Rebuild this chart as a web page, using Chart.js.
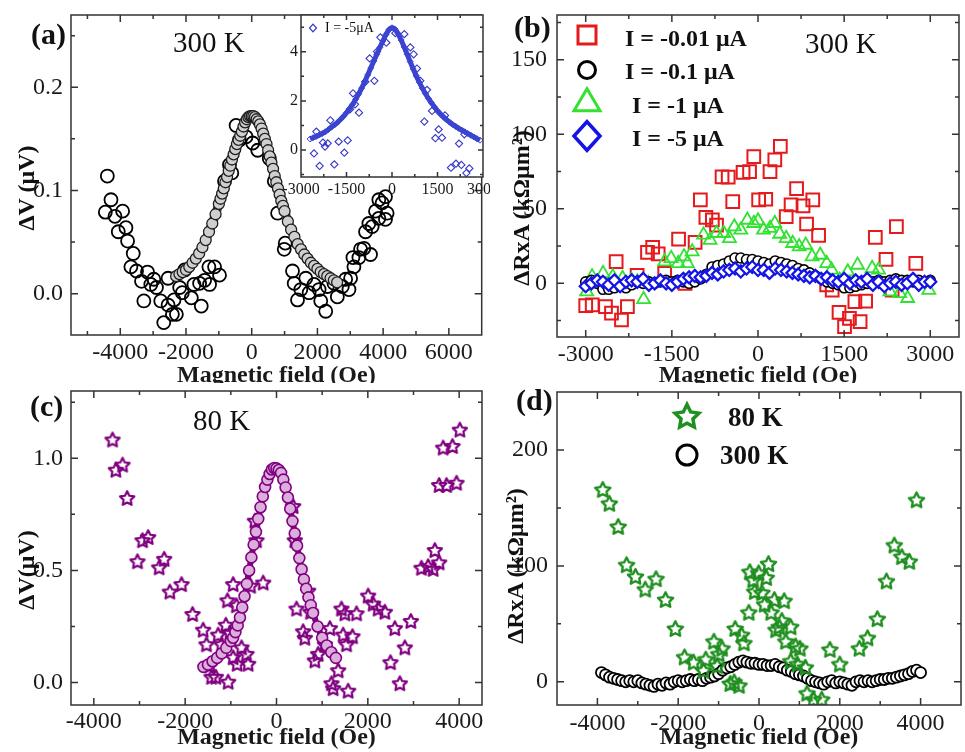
<!DOCTYPE html>
<html>
<head>
<meta charset="utf-8">
<title>Magnetic field dependence of ΔV and ΔRxA</title>
<script src="https://cdn.jsdelivr.net/npm/chart.js@4.4.1/dist/chart.umd.min.js"></script>
<style>
  body { margin: 0; width: 965px; height: 752px; overflow: hidden; position: relative; background: #fff;
         font-family: "Liberation Serif", "Times New Roman", serif; color: #111; }
  canvas { position: absolute; }
  .txt { position: absolute; white-space: nowrap; line-height: 1; }
  .panel { font-size: 30px; font-weight: bold; }
  .temp { font-size: 29px; }
  .ytitle { font-size: 24px; font-weight: bold; transform: translate(-50%, -50%) rotate(-90deg); }
  .leg { font-size: 24px; font-weight: bold; }
  .legd { font-size: 27px; font-weight: bold; }
  .small { font-size: 14px; }
  svg.mk { position: absolute; overflow: visible; }
</style>
</head>
<body>
<canvas id="chartA" width="490" height="400" style="left:0;top:0;z-index:1"></canvas>
<canvas id="chartInset" width="225" height="205" style="left:280px;top:0;z-index:2"></canvas>
<canvas id="chartB" width="480" height="400" style="left:490px;top:0;z-index:3"></canvas>
<canvas id="chartC" width="490" height="369" style="left:0;top:383px;z-index:4"></canvas>
<canvas id="chartD" width="480" height="369" style="left:490px;top:383px;z-index:5"></canvas>
<div id="notes" style="position:absolute;left:0;top:0;z-index:10"></div>
<script>
// ---- data: [field (Oe), value] ----

// (a) 300 K, ΔV (μV)
const a300Points = [[-4394,0.114],[-4455,0.079],[-4283,0.091],[-4162,0.075],[-3929,0.080],[-4061,0.060],[-3828,0.064],[-3778,0.051],
  [-3606,0.039],[-3677,0.026],[-3505,0.022],[-3354,0.012],[-3172,0.021],[-3283,-0.007],[-3071,0.009],[-2980,0.014],[-2899,0.006],
  [-2768,-0.007],[-2677,-0.028],[-2545,-0.011],[-2545,0.015],[-2414,-0.020],[-2293,-0.020],[-2364,-0.006],[-2192,0.006],[-2111,0.001],
  [-2040,0.023],[-1838,-0.004],[-1758,0.009],[-1586,0.010],[-1535,-0.012],[-1434,0.013],[-1283,0.009],[-1131,0.026],[-980,0.018],
  [-1303,0.026],[-828,0.109],[-677,0.125],[-606,0.117],[-475,0.163],[-374,0.149],[-172,0.152],[30,0.146],[182,0.139],[535,0.131],
  [687,0.109],[788,0.078],[990,0.043],[1020,0.049],[1242,0.022],[1293,0.010],[1394,-0.006],[1495,0.004],[1646,0.015],[1747,0.001],
  [1899,0.009],[2051,0.004],[2101,-0.007],[2253,-0.017],[2303,0.007],[2505,0.010],[2606,-0.003],[2758,0.007],[2859,0.014],[2960,0.004],
  [3010,0.015],[3111,0.026],[3081,0.035],[3263,0.035],[3313,0.043],[3414,0.044],[3616,0.038],[3465,0.060],[3566,0.068],[3667,0.065],
  [3768,0.080],[3869,0.073],[3970,0.088],[3869,0.091],[4071,0.094],[4121,0.078],[4071,0.072]];
const a300Fit = [[-2300,0.017],[-2200,0.019],[-2100,0.021],[-2000,0.023],[-1900,0.026],[-1800,0.030],[-1700,0.034],[-1600,0.039],
  [-1500,0.045],[-1400,0.052],[-1300,0.060],[-1200,0.068],[-1100,0.077],[-1000,0.087],[-950,0.092],[-900,0.097],[-850,0.102],
  [-800,0.108],[-750,0.113],[-700,0.119],[-650,0.124],[-600,0.130],[-550,0.135],[-500,0.140],[-450,0.145],[-400,0.149],[-350,0.153],
  [-300,0.157],[-250,0.162],[-200,0.166],[-150,0.169],[-100,0.171],[-50,0.172],[0,0.172],[50,0.172],[100,0.171],[150,0.169],
  [200,0.167],[250,0.164],[300,0.160],[350,0.155],[400,0.150],[450,0.145],[500,0.139],[550,0.133],[600,0.127],[650,0.121],
  [700,0.114],[750,0.108],[800,0.102],[850,0.096],[900,0.090],[950,0.085],[1000,0.080],[1100,0.070],[1200,0.062],[1300,0.055],
  [1400,0.048],[1500,0.043],[1600,0.038],[1700,0.034],[1800,0.030],[1900,0.027],[2000,0.024],[2100,0.021],[2200,0.019],[2300,0.017],
  [2400,0.015],[2500,0.013],[2600,0.011]];

// (a) inset, I = -5 μA
const insetPoints = [[-2571,-0.14],[-2495,0.75],[-2385,-0.65],[-2275,0.30],[-2209,0.14],[-2121,0.27],[-2033,1.21],[-1901,-0.59],
  [-1758,0.34],[-1571,-0.11],[-1462,0.39],[-1385,1.66],[-1286,2.31],[-1220,1.86],[-1088,1.52],[-879,2.78],[-736,3.73],[-582,2.82],
  [-495,4.01],[-385,4.59],[-187,4.37],[110,4.76],[407,4.72],[604,4.18],[714,3.9],[824,3.32],[934,2.82],[1066,1.16],[1154,2.45],
  [1319,1.59],[1429,0.48],[1538,0.84],[1648,0.50],[1747,1.41],[1945,-0.72],[2110,-0.56],[2286,-0.61],[2209,0.26],[2451,-0.94],
  [2550,-0.75],[2385,0.64]];
const insetFit = [[-2700,0.45],[-2600,0.50],[-2500,0.55],[-2400,0.61],[-2300,0.67],[-2200,0.74],[-2100,0.83],[-2000,0.93],
  [-1900,1.02],[-1800,1.12],[-1700,1.24],[-1600,1.37],[-1500,1.52],[-1400,1.68],[-1300,1.86],[-1200,2.06],[-1100,2.28],[-1000,2.52],
  [-900,2.78],[-800,3.06],[-700,3.34],[-600,3.62],[-500,3.90],[-400,4.18],[-300,4.44],[-200,4.70],[-100,4.90],[0,4.98],[100,4.92],
  [200,4.74],[300,4.48],[400,4.20],[500,3.90],[600,3.60],[700,3.30],[800,3.02],[900,2.76],[1000,2.52],[1100,2.30],[1200,2.10],
  [1300,1.92],[1400,1.75],[1500,1.59],[1600,1.46],[1700,1.34],[1800,1.23],[1900,1.13],[2000,1.04],[2100,0.96],[2200,0.88],
  [2300,0.81],[2400,0.74],[2500,0.67],[2600,0.60],[2700,0.53],[2800,0.46],[2900,0.40]];

// (b) 300 K, ΔRxA (kΩμm²) for four bias currents
const bCurrentLabels = ['I = -0.01 μA', 'I = -0.1 μA', ' I = -1 μA', ' I = -5 μA'];
const bI001 = [[-3000,-15],[-2887,-14.5],[-2656,-15.7],[-2551,-20],[-2377,-24.6],[-2274,-15.7],[-2470,14.6],[-2105,5.4],[-1924,20.8],
  [-1834,24.2],[-1738,19.7],[-1625,6.7],[-1383,29.6],[-1270,0],[-1095,27.5],[-1004,56],[-908,44.3],[-795,42.5],[-722,39],[-626,71.4],
  [-519,71.2],[-440,54.8],[-260,74.5],[-147,75],[-73,85],[11,56],[135,56.4],[209,75],[293,82.8],[389,91.8],[491,44.8],[576,52.6],
  [672,63.6],[784,52],[846,39.8],[954,56],[1055,32.2],[1196,-1],[1292,-4.5],[1411,-19.5],[1507,-29],[1592,-23.5],[1687,-12.3],
  [1778,-25.7],[1874,-11.9],[2043,30.9],[2229,16.1],[2410,38],[2748,13.4],[2336,-4.5]];
const bI01 = [[-3000,1],[-2900,2],[-2800,0],[-2700,-4],[-2600,-4],[-2500,-3],[-2400,-2],[-2300,-3],[-2200,-1],[-2100,1],[-2000,0],
  [-1900,1],[-1800,0],[-1700,1],[-1600,2],[-1500,1],[-1400,2],[-1300,1],[-1200,0],[-1100,1],[-1000,3],[-900,6],[-800,11],[-700,12],
  [-600,13],[-500,15],[-400,17],[-300,17],[-200,16],[-100,16],[0,15],[100,14],[200,13],[300,15],[400,14],[500,13],[600,12],[700,10],
  [800,9],[900,7],[1000,5],[1100,3],[1200,1],[1300,0],[1400,-1],[1500,-3],[1600,-3],[1700,-2],[1800,-1],[1900,0],[2000,1],[2100,2],
  [2200,1],[2300,2],[2400,3],[2500,2],[2600,2],[2700,1],[2800,2],[2900,1],[3000,2]];
const bI1 = [[-2983,-5.6],[-2889,4.5],[-2698,6.7],[-2528,4.5],[-2359,3.4],[-2200,2],[-2100,1],[-1992,-10.7],[-1907,0],[-1625,14.6],
  [-1512,16.8],[-1388,13.4],[-1287,17.9],[-1230,13.4],[-1146,21.3],[-948,32.5],[-835,29],[-722,33.6],[-598,33.6],[-497,30.2],
  [-412,38],[-299,35.8],[-186,42.5],[-73,40.3],[0,42],[96,35.8],[209,37],[293,40.3],[378,33.1],[491,30.2],[604,26.9],[717,24.6],
  [830,25.7],[942,17.9],[1083,19],[1196,13.4],[1281,9],[1422,2.2],[1563,7.8],[1733,12.3],[1987,10.1],[2100,9],[2297,-5.6],
  [2466,-6.7],[2607,-10],[2974,-4.5]];
const bI5 = [[-3000,-2],[-2900,0],[-2800,2],[-2700,1],[-2600,-1],[-2500,2],[-2400,-2],[-2300,1],[-2200,2],[-2100,1],[-2000,3],
  [-1900,-1],[-1800,0],[-1700,2],[-1600,0],[-1500,-1],[-1400,1],[-1300,3],[-1200,4],[-1100,5],[-1000,4],[-900,5],[-800,7],[-700,6],
  [-600,8],[-500,9],[-400,10],[-300,8],[-200,10],[-100,11],[0,9],[100,9],[200,7],[300,10],[400,9],[500,8],[600,7],[700,6],[800,5],
  [900,4],[1000,5],[1100,3],[1200,4],[1300,2],[1400,1],[1500,3],[1600,0],[1700,2],[1800,1],[1900,3],[2000,-1],[2100,1],[2200,-2],
  [2300,0],[2400,1],[2500,-1],[2600,0],[2700,3],[2800,-1],[2900,1],[3000,1]];

// (c) 80 K, ΔV (μV)
const c80Points = [[-3591,1.084],[-3518,0.949],[-3372,0.972],[-3270,0.823],[-2934,0.635],[-2810,0.649],[-3044,0.541],[-2569,0.514],
  [-2460,0.552],[-2336,0.406],[-2080,0.439],[-1839,0.306],[-1606,0.236],[-1533,0.171],[-1460,0.077],[-1423,0.026],[-1328,0.026],
  [-1277,0.214],[-1204,0.171],[-1109,0.258],[-1058,0.004],[-1022,0.222],[-949,0.439],[-949,0.113],[-1073,0.367],[-876,0.345],
  [-861,0.084],[-766,0.157],[-620,0.084],[-657,0.128],[-569,0.432],[-474,0.722],[-438,0.635],[-292,0.446],[365,0.787],[401,0.635],
  [438,0.330],[693,0.410],[745,0.316],[584,0.229],[620,0.200],[839,0.099],[912,0.128],[1058,0.171],[1168,0.243],[1204,-0.003],
  [1241,-0.025],[1350,0.055],[1423,0.330],[1496,0.309],[1460,0.214],[1533,0.171],[1569,-0.036],[1664,0.207],[1752,0.309],
  [2007,0.388],[2117,0.352],[2226,0.330],[2372,0.316],[2591,0.243],[2496,0.091],[2701,-0.003],[2810,0.157],[2942,0.275],
  [3175,0.512],[3321,0.519],[3431,0.507],[3467,0.591],[3562,0.536],[3562,0.881],[3723,0.881],[3942,0.891],[3650,1.048],
  [3854,1.055],[4015,1.128]];
const c80Fit = [[-1600,0.07],[-1500,0.08],[-1400,0.095],[-1300,0.11],[-1200,0.13],[-1100,0.155],[-1000,0.185],[-950,0.2],
  [-900,0.225],[-850,0.255],[-800,0.29],[-750,0.335],[-700,0.385],[-650,0.44],[-600,0.5],[-550,0.558],[-500,0.615],[-450,0.672],
  [-400,0.73],[-350,0.782],[-300,0.83],[-250,0.872],[-200,0.905],[-150,0.93],[-100,0.95],[-50,0.957],[0,0.955],[50,0.948],
  [100,0.935],[150,0.905],[200,0.87],[250,0.825],[300,0.775],[350,0.72],[400,0.665],[450,0.61],[500,0.555],[550,0.505],[600,0.46],
  [650,0.418],[700,0.38],[750,0.345],[800,0.31],[900,0.25],[1000,0.2],[1100,0.165],[1200,0.135],[1300,0.11]];

// (d) ΔRxA (kΩμm²) at two temperatures
const dTempLabels = ['80 K', '300 K'];
const d80 = [[-3867,166],[-3705,154],[-3487,134],[-3277,101],[-3058,91],[-2816,80],[-2549,89],[-2313,71],[-2071,46],[-1844,21.5],
  [-1619,17],[-1375,10],[-1318,19.6],[-1116,35],[-1036,14],[-914,29],[-995,24],[-712,-1.4],[-615,0],[-494,-3],[-590,46],[-429,40.6],
  [-372,33.6],[-251,60],[-227,95],[-146,88],[-106,78],[-8,94],[72,77],[138,67],[178,90],[235,102],[299,60],[380,71],[420,45],
  [501,47.5],[623,70],[566,53],[664,35],[785,47.5],[906,31],[1012,29],[785,18],[947,15.4],[1148,12.6],[1189,-9.8],[1351,-15],
  [1553,-15],[1755,28],[1999,15.4],[2483,29],[2686,38],[2929,54.5],[3155,87],[3349,118],[3535,108],[3722,104],[3900,157]];
const d300 = [[-3900,8],[-3800,6],[-3700,4],[-3600,3],[-3500,2],[-3400,1],[-3300,0],[-3200,1],[-3100,0],[-3000,1],[-2900,-1],
  [-2800,-2],[-2700,-3],[-2600,-4],[-2500,-2],[-2400,-3],[-2300,-1],[-2200,-2],[-2100,0],[-2000,1],[-1900,0],[-1800,1],[-1700,2],
  [-1600,1],[-1500,2],[-1400,1],[-1300,3],[-1200,4],[-1100,5],[-1000,7],[-900,10],[-800,12],[-700,13],[-600,15],[-500,17],[-400,18],
  [-300,17],[-200,16],[-100,16],[0,15],[100,15],[200,14],[300,14],[400,15],[500,13],[600,12],[700,10],[800,9],[900,7],[1000,6],
  [1100,5],[1200,3],[1300,1],[1400,0],[1500,-1],[1600,-2],[1700,0],[1800,1],[1900,-1],[2000,0],[2100,-1],[2200,-2],[2300,-3],
  [2400,0],[2500,1],[2600,0],[2700,1],[2800,0],[2900,1],[3000,2],[3100,2],[3200,3],[3300,3],[3400,4],[3500,5],[3600,6],[3700,7],
  [3800,9],[3900,10],[4000,8]];

// tick labels
const aFieldTicks = [-4000, -2000, 0, 2000, 4000, 6000];
const aDVTicks = [0, 0.1, 0.2];
const insetFieldTicks = [-3000, -1500, 0, 1500, 3000];
const insetDVTicks = [0, 2, 4];
const bFieldTicks = [-3000, -1500, 0, 1500, 3000];
const bRATicks = [0, 50, 100, 150];
const cFieldTicks = [-4000, -2000, 0, 2000, 4000];
const cDVTicks = [0, 0.5, 1.0];
const dFieldTicks = [-4000, -2000, 0, 2000, 4000];
const dRATicks = [0, 100, 200];

const SERIF = '"Liberation Serif", "Times New Roman", serif';
const INK = '#1a1a1a';
const FRAME = '#333';
const PURPLE = '#800080';
const DGREEN = '#1f8f1f';
const xy = pairs => pairs.map(([x, y]) => ({x, y}));

function starPath(R, ratio) {
  const pts = [];
  for (let i = 0; i < 10; i++) {
    const r = i % 2 ? R * ratio : R;
    const ang = -Math.PI / 2 + i * Math.PI / 5;
    pts.push([r * Math.cos(ang), r * Math.sin(ang)]);
  }
  return pts;
}

// open five-point star used as a point style
function starImage(color, R, lw) {
  const s = Math.ceil(2 * R + 2 * lw + 2);
  const c = document.createElement('canvas');
  c.width = c.height = s;
  const g = c.getContext('2d');
  g.translate(s / 2, s / 2 + R * 0.1);
  g.beginPath();
  starPath(R, 0.5).forEach(([x, y], i) => i ? g.lineTo(x, y) : g.moveTo(x, y));
  g.closePath();
  g.strokeStyle = color;
  g.lineWidth = lw;
  g.lineJoin = 'round';
  g.stroke();
  return c;
}

// white paper behind a panel (or only its plot area, for the inset)
const paper = {
  id: 'paper',
  beforeDraw(chart, args, o) {
    const {ctx, chartArea: a} = chart;
    ctx.save();
    ctx.fillStyle = '#fff';
    if (o.area) ctx.fillRect(a.left, a.top, a.right - a.left, a.bottom - a.top);
    else ctx.fillRect(0, 0, chart.width, chart.height);
    ctx.restore();
  }
};

// closed frame with inward major/minor ticks on all four sides
const frameTicks = {
  id: 'frameTicks',
  afterDatasetsDraw(chart, args, o) {
    if (!o.xTicks) return;
    const {ctx, chartArea: a, scales: {x, y}} = chart;
    const marks = (scale, majors, step) => {
      const out = [];
      for (let k = Math.ceil(scale.min / step - 1e-9); k * step <= scale.max + 1e-9; k++) {
        const v = k * step;
        const major = majors.some(m => Math.abs(m - v) < step / 100);
        out.push([scale.getPixelForValue(v), major ? o.major : o.minor]);
      }
      return out;
    };
    ctx.save();
    ctx.strokeStyle = FRAME;
    ctx.lineWidth = o.width;
    ctx.beginPath();
    for (const [px, len] of marks(x, o.xTicks, o.xMinor)) {
      ctx.moveTo(px, a.bottom); ctx.lineTo(px, a.bottom - len);
      ctx.moveTo(px, a.top); ctx.lineTo(px, a.top + len);
    }
    for (const [py, len] of marks(y, o.yTicks, o.yMinor)) {
      ctx.moveTo(a.left, py); ctx.lineTo(a.left + len, py);
      ctx.moveTo(a.right, py); ctx.lineTo(a.right - len, py);
    }
    ctx.rect(a.left, a.top, a.right - a.left, a.bottom - a.top);
    ctx.stroke();
    ctx.restore();
  }
};
Chart.register(paper, frameTicks);

function makePanel(id, p) {
  return new Chart(document.getElementById(id), {
    type: 'scatter',
    data: {datasets: p.datasets},
    options: {
      responsive: false,
      animation: false,
      events: [],
      layout: {padding: p.pad},
      plugins: {
        legend: {display: false},
        tooltip: {enabled: false},
        paper: {area: !!p.areaOnly},
        frameTicks: {xTicks: p.xTicks, yTicks: p.yTicks, xMinor: p.xMinor, yMinor: p.yMinor,
                     major: p.tickLen[0], minor: p.tickLen[1], width: 1.5}
      },
      scales: {
        x: {
          type: 'linear', min: p.xRange[0], max: p.xRange[1],
          grid: {display: false, drawTicks: false},
          border: {display: false},
          afterBuildTicks: s => { s.ticks = p.xTicks.map(v => ({value: v})); },
          afterFit: s => { s.height = p.xBox; s.paddingLeft = 0; s.paddingRight = 0; },
          ticks: {autoSkip: false, maxRotation: 0, padding: p.xPad, color: INK,
                  font: {family: SERIF, size: p.tickSize}, callback: v => String(v)},
          title: {display: !!p.xTitle, text: p.xTitle || '', color: INK,
                  font: {family: SERIF, size: 24, weight: 'bold'}, padding: {top: 0, bottom: p.xTitlePad || 0}}
        },
        y: {
          type: 'linear', min: p.yRange[0], max: p.yRange[1],
          grid: {display: false, drawTicks: false},
          border: {display: false},
          afterBuildTicks: s => { s.ticks = p.yTicks.map(v => ({value: v})); },
          afterFit: s => { s.width = p.yBox; s.paddingTop = 0; s.paddingBottom = 0; },
          ticks: {autoSkip: false, padding: p.yPad, color: INK,
                  font: {family: SERIF, size: p.tickSize}, callback: v => v.toFixed(p.yDec)}
        }
      }
    }
  });
}

const openCircle = (data, r, lw, fill, order) => ({
  data: xy(data), pointStyle: 'circle', pointRadius: r, pointBorderWidth: lw,
  pointBorderColor: '#000', pointBackgroundColor: fill, order
});

// (a)
makePanel('chartA', {
  pad: {left: 0, top: 15, right: 7, bottom: 0}, yBox: 71, xBox: 65,
  xRange: [-5500, 7000], yRange: [-0.04, 0.27], xTicks: aFieldTicks, yTicks: aDVTicks,
  xMinor: 1000, yMinor: 0.05, tickLen: [7, 4], tickSize: 24, xPad: 3, yPad: 8, yDec: 1,
  xTitle: 'Magnetic field (Oe)', xTitlePad: 9.6,
  datasets: [
    {data: xy(a300Fit), showLine: true, borderColor: '#3a3a3a', borderWidth: 9, tension: 0.3,
     borderCapStyle: 'round', pointRadius: 5.5, pointBorderWidth: 1.3, pointBorderColor: '#1e1e1e',
     pointBackgroundColor: '#cfcfcf', order: 0},
    openCircle(a300Points, 6.5, 1.8, 'rgba(0,0,0,0)', 1)
  ]
});

// (a) inset
makePanel('chartInset', {
  pad: {left: 0, top: 15, right: 22, bottom: 0}, yBox: 21, xBox: 28, areaOnly: true,
  xRange: [-3000, 3000], yRange: [-1.1, 5.5], xTicks: insetFieldTicks, yTicks: insetDVTicks,
  xMinor: 750, yMinor: 1, tickLen: [5, 3], tickSize: 16, xPad: 3, yPad: 3, yDec: 0,
  datasets: [
    {data: xy(insetFit), showLine: true, borderColor: '#3a44d0', borderWidth: 5, tension: 0.3,
     pointStyle: 'rectRot', pointRadius: 3, pointBorderWidth: 1, pointBorderColor: '#3a44d0',
     pointBackgroundColor: 'rgba(0,0,0,0)', order: 0},
    {data: xy(insetPoints), pointStyle: 'rectRot', pointRadius: 3.6, pointBorderWidth: 1.1,
     pointBorderColor: '#3636c8', pointBackgroundColor: 'rgba(0,0,0,0)', order: 1}
  ]
});

// (b)
makePanel('chartB', {
  pad: {left: 0, top: 15, right: 1, bottom: 0}, yBox: 67, xBox: 63,
  xRange: [-3500, 3500], yRange: [-36, 180], xTicks: bFieldTicks, yTicks: bRATicks,
  xMinor: 750, yMinor: 25, tickLen: [7, 4], tickSize: 24, xPad: 3, yPad: 10, yDec: 0,
  xTitle: 'Magnetic field (Oe)', xTitlePad: 9.6,
  datasets: [
    {data: xy(bI001), pointStyle: 'rect', pointRadius: 9, pointBorderWidth: 2, pointBorderColor: '#e41a1c',
     pointBackgroundColor: 'rgba(0,0,0,0)', order: 3},
    openCircle(bI01, 5, 1.6, '#fff', 1),
    {data: xy(bI1), pointStyle: 'triangle', pointRadius: 7.5, pointBorderWidth: 1.8, pointBorderColor: '#33e133',
     pointBackgroundColor: 'rgba(0,0,0,0)', order: 2},
    {data: xy(bI5), pointStyle: 'rectRot', pointRadius: 6, pointBorderWidth: 2.2, pointBorderColor: '#1414e6',
     pointBackgroundColor: '#fff', order: 0}
  ]
});

// (c)
makePanel('chartC', {
  pad: {left: 0, top: 2, right: 8, bottom: 0}, yBox: 71, xBox: 47,
  xRange: [-4500, 4500], yRange: [-0.1, 1.3], xTicks: cFieldTicks, yTicks: cDVTicks,
  xMinor: 1000, yMinor: 0.25, tickLen: [7, 4], tickSize: 24, xPad: 2, yPad: 8, yDec: 1,
  xTitle: 'Magnetic field (Oe)', xTitlePad: 0,
  datasets: [
    {data: xy(c80Fit), showLine: true, borderColor: PURPLE, borderWidth: 6, tension: 0.3, borderCapStyle: 'round',
     pointRadius: 5.5, pointBorderWidth: 1.6, pointBorderColor: PURPLE, pointBackgroundColor: '#dcaedc', order: 0},
    {data: xy(c80Points), pointStyle: starImage(PURPLE, 7.5, 2.2), pointRadius: 7, order: 1}
  ]
});

// (d)
makePanel('chartD', {
  pad: {left: 0, top: 2, right: 1, bottom: 0}, yBox: 67, xBox: 47,
  xRange: [-5000, 5000], yRange: [-20, 250], xTicks: dFieldTicks, yTicks: dRATicks,
  xMinor: 1000, yMinor: 50, tickLen: [7, 4], tickSize: 24, xPad: 4, yPad: 9, yDec: 0,
  xTitle: 'Magnetic field (Oe)', xTitlePad: 0,
  datasets: [
    {data: xy(d80), pointStyle: starImage(DGREEN, 8, 2.4), pointRadius: 8, order: 0},
    openCircle(d300, 5.5, 1.8, '#fff', 1)
  ]
});

// ---- text and legends laid over the canvases ----
const notes = document.getElementById('notes');
function note(text, cls, left, top) {
  const d = document.createElement('div');
  d.className = 'txt ' + cls;
  d.textContent = text;
  d.style.left = left + 'px';
  d.style.top = top + 'px';
  notes.appendChild(d);
  return d;
}
function marker(shape, cx, cy, size, color, lw) {
  const h = size / 2;
  let body;
  if (shape === 'square') body = `<rect x="${-h}" y="${-h}" width="${size}" height="${size}"/>`;
  else if (shape === 'circle') body = `<circle cx="0" cy="0" r="${h}"/>`;
  else if (shape === 'triangle') body = `<polygon points="0,${-h * 0.95} ${h},${h * 0.75} ${-h},${h * 0.75}"/>`;
  else if (shape === 'diamond') body = `<polygon points="0,${-h * 1.1} ${h},0 0,${h * 1.1} ${-h},0"/>`;
  else body = `<polygon points="${starPath(h, 0.5).map(p => p.join(',')).join(' ')}"/>`;
  const wrap = document.createElement('div');
  wrap.innerHTML = `<svg class="mk" width="1" height="1" style="left:${cx}px;top:${cy}px">` +
    `<g fill="none" stroke="${color}" stroke-width="${lw}" stroke-linejoin="miter">${body}</g></svg>`;
  notes.appendChild(wrap.firstChild);
}

note('(a)', 'panel', 31, 19);
note('(b)', 'panel', 514, 12);
note('(c)', 'panel', 30, 391);
note('(d)', 'panel', 516, 385);

note('300 K', 'temp', 173, 28);
note('300 K', 'temp', 805, 29);
note('80 K', 'temp', 193, 406);

note('ΔV (μV)', 'ytitle', 26, 188);
note('ΔRxA (kΩμm²)', 'ytitle', 521, 208);
note('ΔV(μV)', 'ytitle', 26, 570);
note('ΔRxA (kΩμm²)', 'ytitle', 515, 566);

// inset legend
marker('diamond', 313, 28, 7, '#3636c8', 1.2);
note('I = -5μA', 'small', 325, 21);

// (b) legend
const bShapes = [['square', 18, '#e41a1c', 3], ['circle', 17, '#000', 3], ['triangle', 26, '#33e133', 3], ['diamond', 26, '#1414e6', 3.5]];
const bMarkY = [35, 70, 101, 136];
const bTextY = [37.5, 70.5, 104.5, 137.5];
bCurrentLabels.forEach((lab, i) => {
  const [shape, size, color, lw] = bShapes[i];
  marker(shape, 587, bMarkY[i], size, color, lw);
  note(lab.trim(), 'leg', lab.startsWith(' ') ? 632 : 625, bTextY[i] - 12);
});

// (d) legend
marker('star', 687, 417, 25, DGREEN, 3.5);
note(dTempLabels[0], 'legd', 728, 404);
marker('circle', 687, 455, 20, '#000', 3);
note(dTempLabels[1], 'legd', 720, 441.5);
</script>
</body>
</html>
